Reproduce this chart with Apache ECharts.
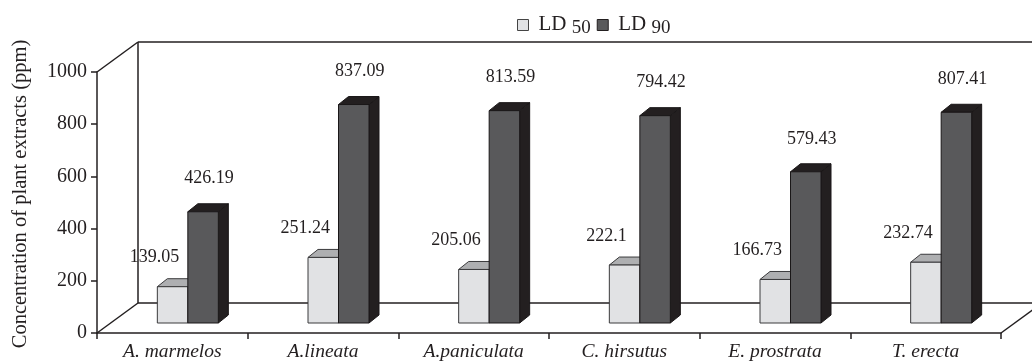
<!DOCTYPE html>
<html>
<head>
<meta charset="utf-8">
<script src="https://cdn.jsdelivr.net/npm/echarts@6/dist/echarts.min.js"></script>
<style>
  html, body { margin: 0; padding: 0; background: #fff; }
  #chart { width: 1032px; height: 363px; }
</style>
</head>
<body>
<div id="chart"></div>
<script>
// Plant species and their lethal doses (ppm)
const species = ['A. marmelos', 'A.lineata', 'A.paniculata', 'C. hirsutus', 'E. prostrata', 'T. erecta'];
const ld50 = [139.05, 251.24, 205.06, 222.1, 166.73, 232.74];
const ld90 = [426.19, 837.09, 813.59, 794.42, 579.43, 807.41];
const seriesNames = ['LD 50', 'LD 90'];
const yTicks = { min: 0, max: 1000, step: 200 };
const yTitle = 'Concentration of plant extracts (ppm)';

const INK = '#231f20';
const SERIF = '"Liberation Serif", "Times New Roman", serif';

// 3D look: wall depth, bar plane offset and bar extrusion
const WALL_DX = 41, WALL_DY = -30;
const PLANE_DX = 15.5, PLANE_DY = -10;
const BAR_W = 30.5, BAR_DX = 10, BAR_DY = -8;

const palettes = [
  { front: '#e1e2e4', top: '#aeafb1', side: '#8e8f91', line: '#3a3a3c' },
  { front: '#59595b', top: '#231f20', side: '#231f20', line: '#1a1718' }
];

function poly(points, fill, stroke) {
  return { type: 'polygon', shape: { points: points },
    style: { fill: fill, stroke: stroke, lineWidth: 1 } };
}

function makeBarRenderer(k) {
  const pal = palettes[k];
  return function (params, api) {
    const cat = api.value(0), v = api.value(1);
    const pTop = api.coord([cat, v]);
    const pBase = api.coord([cat, 0]);
    const cx = pTop[0] + PLANE_DX;
    const top = pTop[1] + PLANE_DY;
    const base = pBase[1] + PLANE_DY;
    const L = k === 0 ? cx - BAR_W : cx;
    const R = L + BAR_W;
    const children = [
      poly([[R, top], [R + BAR_DX, top + BAR_DY], [R + BAR_DX, base + BAR_DY], [R, base]], pal.side, pal.line),
      poly([[L, top], [R, top], [R + BAR_DX, top + BAR_DY], [L + BAR_DX, top + BAR_DY]], pal.top, pal.line),
      { type: 'rect', shape: { x: L, y: top, width: BAR_W, height: base - top },
        style: { fill: pal.front, stroke: pal.line, lineWidth: 1 } }
    ];
    const lx = k === 0 ? (L + R) / 2 - 18 : (L + R) / 2 + 6;
    const ly = k === 0 ? top - 29 : top - 33;
    children.push({ type: 'text', z2: 10,
      style: { text: String(v), x: lx, y: ly, align: 'center', verticalAlign: 'middle',
        font: '18px ' + SERIF, fill: INK } });
    return { type: 'group', children: children };
  };
}

// Back wall and floor outline of the 3D box
function renderFrame(params) {
  const r = params.coordSys;
  const x0 = r.x, x1 = r.x + r.width, y0 = r.y, y1 = r.y + r.height;
  const st = { stroke: INK, lineWidth: 1.5 };
  const seg = (a, b) => ({ type: 'line', shape: { x1: a[0], y1: a[1], x2: b[0], y2: b[1] }, style: st });
  const bx0 = x0 + WALL_DX, bx1 = x1 + WALL_DX, by0 = y0 + WALL_DY, by1 = y1 + WALL_DY;
  return { type: 'group', children: [
    seg([x0, y0], [bx0, by0]),
    seg([bx0, by0], [bx1, by0]),
    seg([bx0, by0], [bx0, by1]),
    seg([bx0, by1], [bx1, by1]),
    seg([x0, y1], [bx0, by1]),
    seg([x1, y1], [bx1, by1]),
    seg([bx1, by0], [bx1, by1])
  ] };
}

const chart = echarts.init(document.getElementById('chart'), null, { renderer: 'canvas' });

const legendRich = {
  m: { fontFamily: SERIF, fontSize: 21, lineHeight: 22, verticalAlign: 'top', color: INK },
  s: { fontFamily: SERIF, fontSize: 19, lineHeight: 20, verticalAlign: 'top', padding: [5, 0, 0, 0], color: INK }
};

chart.setOption({
  animation: false,
  backgroundColor: '#ffffff',
  grid: { left: 97, right: 31, top: 72, bottom: 30, containLabel: false },
  legend: {
    left: 512, top: 9,
    itemWidth: 11, itemHeight: 11, itemGap: 6,
    selectedMode: false,
    data: [
      { name: seriesNames[0], icon: 'rect', itemStyle: { color: palettes[0].front, borderColor: '#444', borderWidth: 1 } },
      { name: seriesNames[1], icon: 'rect', itemStyle: { color: palettes[1].front, borderColor: INK, borderWidth: 1 } }
    ],
    formatter: function (name) {
      const parts = name.split(' ');
      return '{m|' + parts[0] + ' }{s|' + parts[1] + '}';
    },
    textStyle: { rich: legendRich, padding: [0, 0, 0, 5] }
  },
  graphic: [{
    type: 'text', x: 21, y: 194, rotation: Math.PI / 2,
    style: { text: yTitle, align: 'center', verticalAlign: 'middle', font: '20.5px ' + SERIF, fill: INK }
  }],
  xAxis: {
    type: 'category',
    data: species,
    boundaryGap: true,
    axisLine: { lineStyle: { color: INK, width: 1.5 } },
    axisTick: { show: true, interval: 0, length: 6, lineStyle: { color: INK, width: 1.5 } },
    axisLabel: { interval: 0, margin: 9, fontFamily: SERIF, fontStyle: 'italic', fontSize: 19.5, color: INK },
    splitLine: { show: false }
  },
  yAxis: {
    type: 'value',
    min: yTicks.min, max: yTicks.max, interval: yTicks.step,
    axisLine: { show: true, lineStyle: { color: INK, width: 1.5 } },
    axisTick: { show: true, length: 6, lineStyle: { color: INK, width: 1.5 } },
    axisLabel: { margin: 10, fontFamily: SERIF, fontSize: 20, color: INK,
      formatter: function (v) { return String(v); } },
    splitLine: { show: false }
  },
  series: [
    { type: 'custom', name: 'frame', silent: true, z: 1, renderItem: renderFrame, data: [[0, 0]], legendHoverLink: false },
    { type: 'custom', name: seriesNames[0], z: 2, renderItem: makeBarRenderer(0),
      itemStyle: { color: palettes[0].front },
      data: ld50.map((v, i) => [i, v]) },
    { type: 'custom', name: seriesNames[1], z: 3, renderItem: makeBarRenderer(1),
      itemStyle: { color: palettes[1].front },
      data: ld90.map((v, i) => [i, v]) }
  ]
});
</script>
</body>
</html>
